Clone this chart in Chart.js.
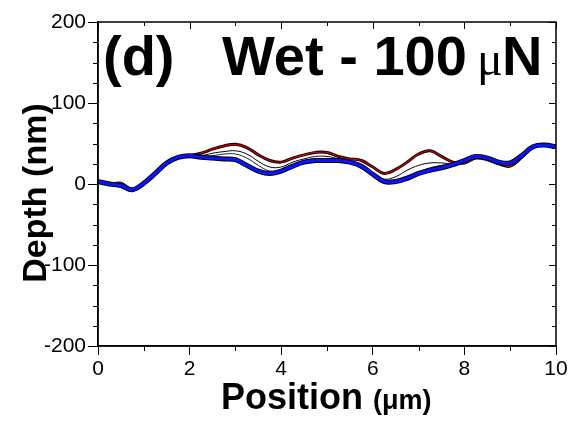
<!DOCTYPE html>
<html>
<head>
<meta charset="utf-8">
<script src="https://cdn.jsdelivr.net/npm/chart.js@4"></script>
<style>
  html, body { margin: 0; padding: 0; background: #fff; }
  #wrap { width: 578px; height: 425px; }
</style>
</head>
<body>
<div id="wrap"><canvas id="chart" width="578" height="425"></canvas></div>
<script>
// position along the scan (um)
const positions = [0, 0.25, 0.5, 0.75, 1, 1.25, 1.5, 1.75, 2, 2.25, 2.5, 2.75, 3, 3.25, 3.5, 3.75,
    4, 4.25, 4.5, 4.75, 5, 5.25, 5.5, 5.75, 6, 6.25, 6.5, 6.75, 7, 7.25, 7.5, 7.75,
    8, 8.25, 8.5, 8.75, 9, 9.25, 9.5, 9.75, 10];

// depth profiles (nm)
const redDepth = [3, 0, 1, -7, 1, 13, 26, 33, 35, 38, 43, 47, 49, 45, 36, 29,
    27, 32, 36, 39, 39, 34, 31, 29, 21, 13, 18, 27, 37, 41, 34, 27,
    26, 32, 30, 25, 22, 33, 46, 48, 45];
const blackDepth1 = [3, 0, -1, -7, 1, 13, 26, 33, 35, 35, 38, 40, 41, 37, 28, 21,
    21, 27, 31, 34, 34, 31, 28, 23, 14, 6, 9, 17, 23, 26, 26, 25,
    28, 33, 31, 26, 24, 34, 46, 48, 45];
const blackDepth2 = [3, 0, -2, -7, 1, 13, 26, 33, 34, 34, 35, 37, 37, 32, 23, 16,
    17, 24, 29, 31, 31, 30, 27, 22, 12, 4, 5, 10, 15, 20, 23, 25,
    29, 34, 32, 27, 25, 35, 46, 48, 46];
const blueDepth = [3, 0, -2, -7, 1, 13, 26, 33, 35, 33, 32, 31, 30, 23, 16, 13,
    16, 22, 27, 29, 29, 29, 27, 22, 12, 3, 3, 7, 13, 17, 20, 24,
    29, 34, 32, 27, 26, 35, 46, 48, 46];

// tick values
const xMajor = [0, 2, 4, 6, 8, 10];
const xMinor = [1, 3, 5, 7, 9];
const yMajor = [-200, -100, 0, 100, 200];
const yMinor = [-175, -150, -125, -75, -50, -25, 25, 50, 75, 125, 150, 175];

function pts(values) {
    return positions.map((p, i) => ({ x: p, y: values[i] }));
}

function line(values, color, width, order) {
    return {
        data: pts(values),
        borderColor: color,
        borderWidth: width,
        pointRadius: 0,
        tension: 0.4,
        fill: false,
        order: order
    };
}

const FONT = '"Liberation Sans", Arial, sans-serif';

// frame, mirrored ticks, minor ticks and titles
const decorations = {
    id: 'decorations',
    afterDraw(chart) {
        const { ctx, chartArea: a, scales: { x, y } } = chart;
        ctx.save();
        ctx.strokeStyle = '#000';
        ctx.lineWidth = 1.5;
        ctx.strokeRect(a.left, a.top, a.right - a.left, a.bottom - a.top);

        ctx.lineWidth = 1;
        ctx.beginPath();
        xMajor.forEach(v => {
            const px = Math.round(x.getPixelForValue(v)) + 0.5;
            ctx.moveTo(px, a.top); ctx.lineTo(px, a.top + 7);
        });
        xMinor.forEach(v => {
            const px = Math.round(x.getPixelForValue(v)) + 0.5;
            ctx.moveTo(px, a.bottom); ctx.lineTo(px, a.bottom + 5);
            ctx.moveTo(px, a.top); ctx.lineTo(px, a.top + 4);
        });
        yMajor.forEach(v => {
            const py = Math.round(y.getPixelForValue(v)) + 0.5;
            ctx.moveTo(a.right, py); ctx.lineTo(a.right - 7, py);
        });
        yMinor.forEach(v => {
            const py = Math.round(y.getPixelForValue(v)) + 0.5;
            ctx.moveTo(a.left, py); ctx.lineTo(a.left - 5, py);
            ctx.moveTo(a.right, py); ctx.lineTo(a.right - 4, py);
        });
        ctx.stroke();

        ctx.fillStyle = '#000';
        ctx.textBaseline = 'alphabetic';
        ctx.textAlign = 'left';

        // panel title
        ctx.font = 'bold 56px ' + FONT;
        ctx.fillText('(d)', 103, 75);
        ctx.fillText('Wet - 100', 222, 75);
        ctx.fillText('N', 502, 75);
        ctx.font = '48px "Liberation Serif", serif';
        ctx.fillText('\u03bc', 477, 75);

        // x axis title
        ctx.font = 'bold 36px ' + FONT;
        ctx.fillText('Position', 221, 409);
        const w = ctx.measureText('Position ').width;
        ctx.font = 'bold 27px ' + FONT;
        ctx.fillText('(\u03bcm)', 221 + w, 409);

        // y axis title
        ctx.translate(46, 193);
        ctx.rotate(-Math.PI / 2);
        ctx.textAlign = 'center';
        ctx.font = 'bold 34px ' + FONT;
        ctx.fillText('Depth (nm)', 0, 0);
        ctx.restore();
    }
};

new Chart(document.getElementById('chart'), {
    type: 'line',
    data: {
        datasets: [
            line(blueDepth, '#0a14f5', 3.2, 1),
            line(blueDepth, '#000', 5, 2),
            line(blackDepth2, '#222', 1, 3),
            line(blackDepth1, '#000', 1, 4),
            line(redDepth, '#d00000', 1.2, 5),
            line(redDepth, '#000', 3, 6)
        ]
    },
    plugins: [decorations],
    options: {
        responsive: false,
        animation: false,
        layout: { padding: { top: 22, right: 22, left: 0, bottom: 0 } },
        plugins: { legend: { display: false }, tooltip: { enabled: false } },
        scales: {
            x: {
                type: 'linear',
                min: 0,
                max: 10,
                afterFit: s => { s.height = 79; },
                afterBuildTicks: s => { s.ticks = xMajor.map(v => ({ value: v })); },
                border: { color: '#000', width: 1.5 },
                grid: { drawOnChartArea: false, color: '#000', tickLength: 9 },
                ticks: { color: '#000', padding: 2, maxRotation: 0, font: { family: FONT, size: 21 } }
            },
            y: {
                type: 'linear',
                min: -200,
                max: 200,
                afterFit: s => { s.width = 98; },
                afterBuildTicks: s => { s.ticks = yMajor.map(v => ({ value: v })); },
                border: { color: '#000', width: 1.5 },
                grid: { drawOnChartArea: false, color: '#000', tickLength: 10 },
                ticks: { color: '#000', padding: 2, font: { family: FONT, size: 21 } }
            }
        }
    }
});
</script>
</body>
</html>
